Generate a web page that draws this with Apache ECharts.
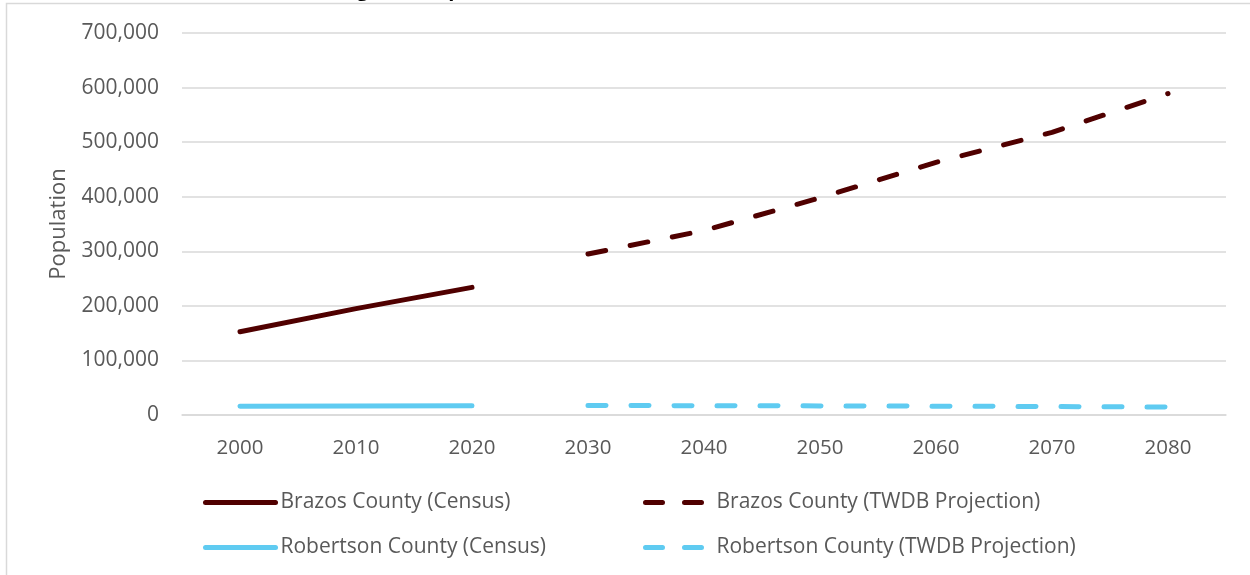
<!DOCTYPE html>
<html>
<head>
<meta charset="utf-8">
<script src="https://cdn.jsdelivr.net/npm/echarts@6/dist/echarts.min.js"></script>
<style>
  html, body { margin: 0; padding: 0; background: #fff; }
  #chart { width: 1250px; height: 575px; }
</style>
</head>
<body>
<div id="chart"></div>
<script>
// Decade labels along the x axis
const years = ['2000', '2010', '2020', '2030', '2040', '2050', '2060', '2070', '2080'];

// Population counts (census years, then TWDB projection years)
const brazosCensus = [152415, 194851, 233849, null, null, null, null, null, null];
const brazosProjection = [null, null, null, 295000, 338000, 398000, 463000, 518000, 589000];
const robertsonCensus = [16000, 16622, 16757, null, null, null, null, null, null];
const robertsonProjection = [null, null, null, 17400, 17100, 16700, 16200, 15500, 14500];

const seriesNames = [
  'Brazos County (Census)',
  'Brazos County (TWDB Projection)',
  'Robertson County (Census)',
  'Robertson County (TWDB Projection)'
];

const MAROON = '#500000';
const SKY = '#5fcbf1';
const FONT = '"Open Sans", sans-serif';
const TEXT = '#595959';
const GRID = '#d9d9d9';
const DASH = [18, 25];

function lineSeries(name, data, color, dashed) {
  return {
    name: name,
    type: 'line',
    data: data,
    symbol: 'none',
    connectNulls: false,
    lineStyle: {
      color: color,
      width: 5,
      type: dashed ? DASH : 'solid',
      cap: 'round',
      join: 'round'
    },
    itemStyle: { color: color }
  };
}

// One legend block per series so the two columns line up
function legendAt(name, left, top, dashed) {
  return {
    data: [name],
    left: left,
    top: top,
    padding: 0,
    orient: 'horizontal',
    itemWidth: 70,
    itemHeight: 14,
    itemGap: 6,
    itemStyle: { opacity: 0 },
    lineStyle: dashed
      ? { width: 5, type: [17, 22], dashOffset: 35, cap: 'round' }
      : { width: 5, type: 'solid', cap: 'round' },
    textStyle: { fontFamily: FONT, fontSize: 21, color: TEXT },
    selectedMode: false
  };
}

const chart = echarts.init(document.getElementById('chart'), null, { renderer: 'canvas' });

chart.setOption({
  backgroundColor: '#fff',
  animation: false,
  title: {
    text: 'Regional Population Growth',
    left: 327,
    top: -25,
    textStyle: { fontFamily: FONT, fontSize: 20, fontWeight: 'bold', color: '#000' }
  },
  graphic: [{
    type: 'rect',
    silent: true,
    z: -1,
    shape: { x: 6.5, y: 3.5, width: 1400, height: 700 },
    style: { fill: 'none', stroke: GRID, lineWidth: 1.5 }
  }],
  grid: { left: 182, right: 24, top: 33, bottom: 160, containLabel: false },
  legend: [
    legendAt(seriesNames[0], 203, 492, false),
    legendAt(seriesNames[1], 639, 492, true),
    legendAt(seriesNames[2], 203, 537, false),
    legendAt(seriesNames[3], 639, 537, true)
  ],
  xAxis: {
    type: 'category',
    data: years,
    boundaryGap: true,
    axisLine: { show: true, lineStyle: { color: GRID, width: 1.5 } },
    axisTick: { show: false },
    axisLabel: { fontFamily: FONT, fontSize: 20.5, color: TEXT, margin: 23 }
  },
  yAxis: {
    type: 'value',
    min: 0,
    max: 700000,
    interval: 100000,
    name: 'Population',
    nameLocation: 'middle',
    nameGap: 112,
    nameRotate: 90,
    nameTextStyle: { fontFamily: FONT, fontSize: 22, color: TEXT },
    axisLine: { show: false },
    axisTick: { show: false },
    splitLine: { lineStyle: { color: GRID, width: 1.5 } },
    axisLabel: {
      fontFamily: FONT,
      fontSize: 21,
      color: TEXT,
      margin: 23,
      formatter: v => v.toLocaleString('en-US')
    }
  },
  series: [
    lineSeries(seriesNames[0], brazosCensus, MAROON, false),
    lineSeries(seriesNames[1], brazosProjection, MAROON, true),
    lineSeries(seriesNames[2], robertsonCensus, SKY, false),
    lineSeries(seriesNames[3], robertsonProjection, SKY, true)
  ]
});
</script>
</body>
</html>
